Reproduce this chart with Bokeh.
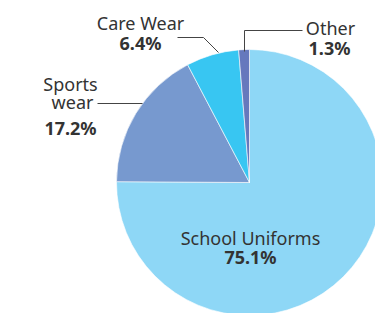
import math
from bokeh.plotting import figure
from bokeh.models import Range1d
from bokeh.core.properties import value
from bokeh.embed import file_html
from bokeh.resources import INLINE

categories = ["School Uniforms", "Sports wear", "Care Wear", "Other"]
shares = [75.1, 17.2, 6.4, 1.3]
colors = ["#8ed7f6", "#7799cf", "#38c6f2", "#6678bd"]
label_names = [["School Uniforms"], ["Sports", "wear"], ["Care Wear"], ["Other"]]
pct_labels = ["75.1%", "17.2%", "6.4%", "1.3%"]

W, H = 375, 313
p = figure(width=W, height=H, output_backend="svg", toolbar_location=None,
           x_range=Range1d(0, W), y_range=Range1d(0, H),
           min_border=0, outline_line_color=None)
p.axis.visible = False
p.grid.visible = False
p.background_fill_color = "white"
p.border_fill_color = "white"

def Y(py):
    return H - py

cx, cy, r = 249, Y(182), 133

total = sum(shares)
cum = 0.0
starts, ends = [], []
for s in shares:
    a0 = math.pi / 2 - 2 * math.pi * cum / total
    cum += s
    a1 = math.pi / 2 - 2 * math.pi * cum / total
    starts.append(a0)
    ends.append(a1)

p.wedge(x=[cx] * len(shares), y=[cy] * len(shares), radius=r,
        start_angle=starts, end_angle=ends, direction="clock",
        fill_color=colors, line_color="white", line_width=0.6)

# leader lines
lc = "#444444"
p.line([177, 203, 218], [Y(37), Y(37), Y(52)], line_color=lc, line_width=1)
p.line([244, 244, 302], [Y(51), Y(30), Y(30)], line_color=lc, line_width=1)
p.line([97, 142], [Y(103), Y(103)], line_color=lc, line_width=1)

font = value("Noto Sans")
tc = "#333333"
name_pos = {
    "School Uniforms": [(250, 237)],
    "Sports wear": [(70, 83), (72, 101)],
    "Care Wear": [(140, 22)],
    "Other": [(330, 27)],
}
pct_pos = {
    "School Uniforms": (250, 256),
    "Sports wear": (70, 127),
    "Care Wear": (140, 42),
    "Other": (329, 47),
}
for cat, names, pct in zip(categories, label_names, pct_labels):
    xs = [pp[0] for pp in name_pos[cat]]
    ys = [Y(pp[1]) for pp in name_pos[cat]]
    p.text(x=xs, y=ys, text=names, text_font=font, text_font_size="18px",
           text_align="center", text_baseline="alphabetic", text_color=tc)
    px, py = pct_pos[cat]
    p.text(x=[px], y=[Y(py)], text=[pct], text_font=font, text_font_size="18px",
           text_font_style="bold", text_align="center", text_baseline="alphabetic",
           text_color=tc)

open("out.html", "w").write(file_html(p, INLINE))
